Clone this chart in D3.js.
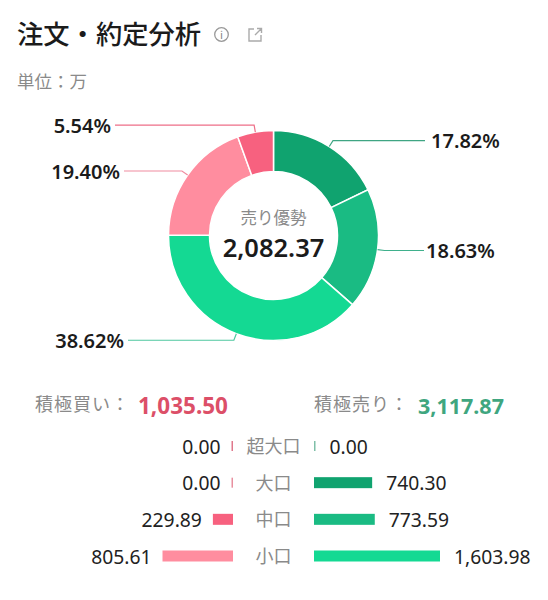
<!DOCTYPE html>
<html>
<head>
<meta charset="utf-8">
<script src="https://cdn.jsdelivr.net/npm/d3@7"></script>
<style>
  html, body { margin: 0; padding: 0; background: #fff; }
  text { font-family: "Noto Sans CJK JP", sans-serif; }
  .num { font-family: "Noto Sans", sans-serif; }
</style>
</head>
<body>
<div id="container"></div>
<script>
/* CONSTANTS */
const width = 548, height = 600;

/* DATA */
const sliceNames = ["大口売り", "中口売り", "小口売り", "小口買い", "中口買い"];
const sliceValues = [740.30, 773.59, 1603.98, 805.61, 229.89];
const sliceLabels = ["17.82%", "18.63%", "38.62%", "19.40%", "5.54%"];
const sliceColors = ["#10a36f", "#1abb83", "#14d993", "#ff8d9f", "#f7617f"];
const leaderColors = ["#3fa583", "#3fb08c", "#4fc7a0", "#f08ca0", "#ee6f88"];

const rowNames = ["超大口", "大口", "中口", "小口"];
const buyValues = [0, 0, 229.89, 805.61];
const sellValues = [0, 740.30, 773.59, 1603.98];
const buyColors = ["#e0788c", "#e8909f", "#f7617f", "#ff8d9f"];
const sellColors = ["#7fbfa8", "#10a36f", "#1abb83", "#14d993"];

const svg = d3.select("#container")
  .append("svg")
  .attr("width", width)
  .attr("height", height)
  .style("display", "block");

/* HEADER */
svg.append("text").attr("x", 17).attr("y", 44)
  .attr("font-size", 26.3).attr("font-weight", 500).attr("fill", "#1b1b1b")
  .text("注文・約定分析");

svg.append("circle").attr("cx", 221.5).attr("cy", 34.5).attr("r", 6.8)
  .attr("fill", "none").attr("stroke", "#999").attr("stroke-width", 1.3);
svg.append("text").attr("x", 221.5).attr("y", 39).attr("text-anchor", "middle")
  .attr("font-size", 11).attr("fill", "#888").text("i");
svg.append("path")
  .attr("d", "M254 29H249V41H261V35M255 35L261 29M257 28.500H261.500V33")
  .attr("fill", "none").attr("stroke", "#aaa").attr("stroke-width", 1.4);

svg.append("text").attr("x", 17).attr("y", 88)
  .attr("font-size", 17.5).attr("fill", "#8a8a8a").text("単位：万");

/* DONUT */
const cx = 273.5, cy = 235.5, outer = 105, inner = 64, elbow = 112;
const pie = d3.pie().sort(null)(sliceValues);
const arc = d3.arc().innerRadius(inner).outerRadius(outer);

const donut = svg.append("g").attr("transform", `translate(${cx},${cy})`);
donut.selectAll("path.slice")
  .data(pie)
  .join("path")
  .attr("class", "slice")
  .attr("d", arc)
  .attr("fill", (d, i) => sliceColors[i])
  .attr("stroke", "#fff")
  .attr("stroke-width", 1.5);

// leader lines run out of the slice middle, then flat to the label
const leaderEnd = [425, 424, 128, 124, 115];
const polar = (a, r) => [Math.sin(a) * r, -Math.cos(a) * r];
donut.selectAll("path.leader")
  .data(pie)
  .join("path")
  .attr("class", "leader")
  .attr("fill", "none")
  .attr("stroke", (d, i) => leaderColors[i])
  .attr("stroke-width", 1.2)
  .attr("d", (d, i) => {
    const a = (d.startAngle + d.endAngle) / 2;
    const p0 = polar(a, outer), p1 = polar(a, elbow);
    return d3.line()([p0, p1, [leaderEnd[i] - cx, p1[1]]]);
  });

const labelX = [431, 426, 124, 120, 111];
donut.selectAll("text.pct")
  .data(pie)
  .join("text")
  .attr("class", "pct num")
  .attr("font-size", 20)
  .attr("font-weight", 600)
  .attr("fill", "#1b1b1b")
  .attr("dominant-baseline", "central")
  .attr("text-anchor", (d, i) => i < 2 ? "start" : "end")
  .attr("x", (d, i) => labelX[i] - cx)
  .attr("y", d => polar((d.startAngle + d.endAngle) / 2, elbow)[1])
  .text((d, i) => sliceLabels[i]);

svg.append("text").attr("x", cx).attr("y", 224).attr("text-anchor", "middle")
  .attr("font-size", 16.5).attr("fill", "#8a8a8a").text("売り優勢");
svg.append("text").attr("class", "num").attr("x", cx).attr("y", 257).attr("text-anchor", "middle")
  .attr("font-size", 25.5).attr("font-weight", 600).attr("fill", "#1b1b1b").text("2,082.37");

/* TOTALS */
svg.append("text").attr("x", 35).attr("y", 411)
  .attr("font-size", 18).attr("letter-spacing", 1).attr("fill", "#8a8a8a").text("積極買い：");
svg.append("text").attr("class", "num").attr("x", 138).attr("y", 414)
  .attr("font-size", 22.5).attr("font-weight", 700).attr("fill", "#dc4f68")
  .text(d3.format(",.2f")(d3.sum(buyValues)));
svg.append("text").attr("x", 314).attr("y", 411)
  .attr("font-size", 18).attr("letter-spacing", 1).attr("fill", "#8a8a8a").text("積極売り：");
svg.append("text").attr("class", "num").attr("x", 418).attr("y", 414)
  .attr("font-size", 21.5).attr("font-weight", 700).attr("fill", "#3fa67f")
  .text(d3.format(",.2f")(d3.sum(sellValues)));

/* ROWS */
const yScale = d3.scalePoint().domain(rowNames).range([446, 556]);
const barH = 11;
const fmt = d3.format(",.2f");
const buyX = d3.scaleLinear().domain([0, 805.61]).range([0, 70.5]);
const sellX = d3.scaleLinear().domain([0, 1603.98]).range([0, 126]);
const buyEnd = 233, sellStart = 314;

const rows = svg.selectAll("g.row")
  .data(rowNames)
  .join("g")
  .attr("class", "row")
  .attr("transform", d => `translate(0,${yScale(d)})`);

rows.append("text")
  .attr("x", cx).attr("y", -1).attr("text-anchor", "middle").attr("dominant-baseline", "central")
  .attr("font-size", 18).attr("fill", "#8a8a8a").text(d => d);

rows.append("rect")
  .attr("x", (d, i) => buyEnd - Math.max(1.5, buyX(buyValues[i])))
  .attr("y", (d, i) => buyValues[i] ? -barH / 2 : -5)
  .attr("width", (d, i) => Math.max(1.5, buyX(buyValues[i])))
  .attr("height", (d, i) => buyValues[i] ? barH : 10)
  .attr("fill", (d, i) => buyColors[i]);

rows.append("rect")
  .attr("x", sellStart)
  .attr("y", (d, i) => sellValues[i] ? -barH / 2 : -5)
  .attr("width", (d, i) => Math.max(1.5, sellX(sellValues[i])))
  .attr("height", (d, i) => sellValues[i] ? barH : 10)
  .attr("fill", (d, i) => sellColors[i]);

rows.append("text")
  .attr("class", "num")
  .attr("x", (d, i) => buyEnd - Math.max(1.5, buyX(buyValues[i])) - 11)
  .attr("text-anchor", "end").attr("dominant-baseline", "central")
  .attr("font-size", 19.3).attr("fill", "#222")
  .text((d, i) => fmt(buyValues[i]));

rows.append("text")
  .attr("class", "num")
  .attr("x", (d, i) => sellStart + Math.max(1.5, sellX(sellValues[i])) + 14)
  .attr("dominant-baseline", "central")
  .attr("font-size", 19.3).attr("fill", "#222")
  .text((d, i) => fmt(sellValues[i]));
</script>
</body>
</html>
